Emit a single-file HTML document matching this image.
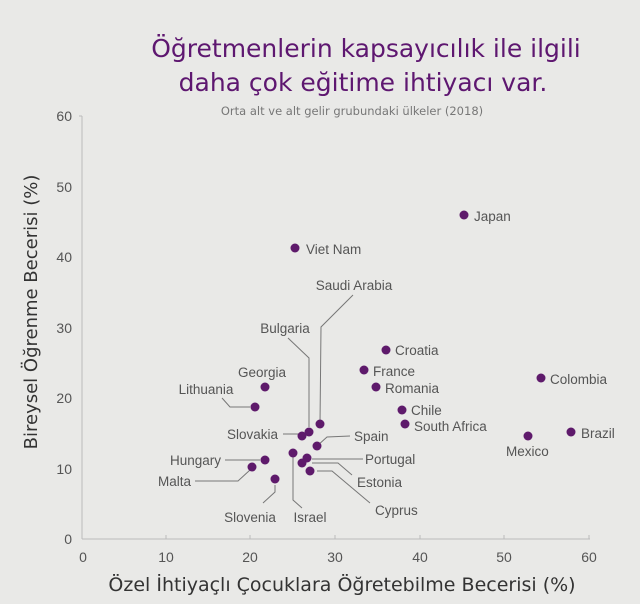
<!DOCTYPE html>
<html><head><meta charset="utf-8"><style>
body{margin:0;background:#e9e9e7;}
svg{display:block;font-family:"Liberation Sans Narrow","Liberation Sans",sans-serif;}
.t{font-size:14px;fill:#555;}
.l{font-size:13.5px;fill:#555;}
.ln{stroke:#777;stroke-width:1;fill:none;}
circle{fill:#5e1a6b;}
</style></head><body>
<svg width="640" height="604" viewBox="0 0 640 604">
<rect width="640" height="604" fill="#e9e9e7"/>
<text x="366" y="57" text-anchor="middle" font-family="DejaVu Sans, sans-serif" font-size="25" fill="#5e1770">Öğretmenlerin kapsayıcılık ile ilgili</text>
<text x="363" y="91" text-anchor="middle" font-family="DejaVu Sans, sans-serif" font-size="25" fill="#5e1770">daha çok eğitime ihtiyacı var.</text>
<text x="352" y="115" text-anchor="middle" font-family="DejaVu Sans, sans-serif" font-size="11.5" fill="#777">Orta alt ve alt gelir grubundaki ülkeler (2018)</text>
<g stroke="#bbb" stroke-width="1">
<line x1="82" y1="539" x2="590" y2="539"/>
<line x1="82" y1="116" x2="82" y2="539"/>
<line x1="82" y1="116" x2="79" y2="116"/>
<line x1="166" y1="539" x2="166" y2="535"/><line x1="250" y1="539" x2="250" y2="535"/><line x1="335" y1="539" x2="335" y2="535"/><line x1="420" y1="539" x2="420" y2="535"/><line x1="504" y1="539" x2="504" y2="535"/><line x1="589" y1="539" x2="589" y2="535"/>
</g>
<g class="t" text-anchor="end">
<text x="72" y="544">0</text><text x="72" y="474">10</text><text x="72" y="403">20</text><text x="72" y="333">30</text><text x="72" y="262">40</text><text x="72" y="192">50</text><text x="72" y="121">60</text>
</g>
<g class="t" text-anchor="middle">
<text x="83" y="562">0</text><text x="166" y="562">10</text><text x="250" y="562">20</text><text x="335" y="562">30</text><text x="420" y="562">40</text><text x="504" y="562">50</text><text x="589" y="562">60</text>
</g>
<text x="342" y="591" text-anchor="middle" font-family="DejaVu Sans, sans-serif" font-size="19" fill="#333">Özel İhtiyaçlı Çocuklara Öğretebilme Becerisi (%)</text>
<text transform="translate(37,312) rotate(-90)" text-anchor="middle" font-family="DejaVu Sans, sans-serif" font-size="18" fill="#333">Bireysel Öğrenme Becerisi (%)</text>
<g class="ln">
<polyline points="320,424 321,327 353,295"/>
<polyline points="309,427 309,358 288,338"/>
<line x1="283" y1="434" x2="299" y2="434"/>
<polyline points="317,446 327,437 350,436"/>
<polyline points="293,457 293,500 302,508"/>
<line x1="312" y1="459" x2="363" y2="459"/>
<polyline points="312,463 338,463 352,475"/>
<polyline points="317,471 332,471 370,503"/>
<line x1="225" y1="460" x2="260" y2="460"/>
<polyline points="195,481 238,481 250,470"/>
<polyline points="275,485 275,492 263,503"/>
<polyline points="222,398 230,407 250,407"/>
</g>
<g>
<circle cx="464" cy="215" r="4.5"/><circle cx="295" cy="248" r="4.5"/>
<circle cx="541" cy="378" r="4.5"/><circle cx="571" cy="432" r="4.5"/><circle cx="528" cy="436" r="4.5"/>
<circle cx="386" cy="350" r="4.5"/><circle cx="364" cy="370" r="4.5"/><circle cx="376" cy="387" r="4.5"/>
<circle cx="402" cy="410" r="4.5"/><circle cx="405" cy="424" r="4.5"/>
<circle cx="265" cy="387" r="4.5"/><circle cx="255" cy="407" r="4.5"/>
<circle cx="320" cy="424" r="4.5"/><circle cx="309" cy="432" r="4.5"/><circle cx="302" cy="436" r="4.5"/>
<circle cx="317" cy="446" r="4.5"/><circle cx="293" cy="453" r="4.5"/><circle cx="307" cy="458" r="4.5"/>
<circle cx="302" cy="463" r="4.5"/><circle cx="310" cy="471" r="4.5"/>
<circle cx="265" cy="460" r="4.5"/><circle cx="252" cy="467" r="4.5"/><circle cx="275" cy="479" r="4.5"/>
</g>
<g class="l">
<text x="474" y="221">Japan</text>
<text x="306" y="254">Viet Nam</text>
<text x="550" y="384">Colombia</text>
<text x="581" y="438">Brazil</text>
<text x="506" y="456">Mexico</text>
<text x="395" y="355">Croatia</text>
<text x="373" y="376">France</text>
<text x="385" y="393">Romania</text>
<text x="411" y="415">Chile</text>
<text x="414" y="431">South Africa</text>
<text x="354" y="290" text-anchor="middle">Saudi Arabia</text>
<text x="285" y="333" text-anchor="middle">Bulgaria</text>
<text x="262" y="377" text-anchor="middle">Georgia</text>
<text x="206" y="394" text-anchor="middle">Lithuania</text>
<text x="278" y="439" text-anchor="end">Slovakia</text>
<text x="354" y="441">Spain</text>
<text x="365" y="464">Portugal</text>
<text x="357" y="487">Estonia</text>
<text x="375" y="515">Cyprus</text>
<text x="221" y="465" text-anchor="end">Hungary</text>
<text x="191" y="486" text-anchor="end">Malta</text>
<text x="250" y="522" text-anchor="middle">Slovenia</text>
<text x="310" y="522" text-anchor="middle">Israel</text>
</g>
</svg>
</body></html>
